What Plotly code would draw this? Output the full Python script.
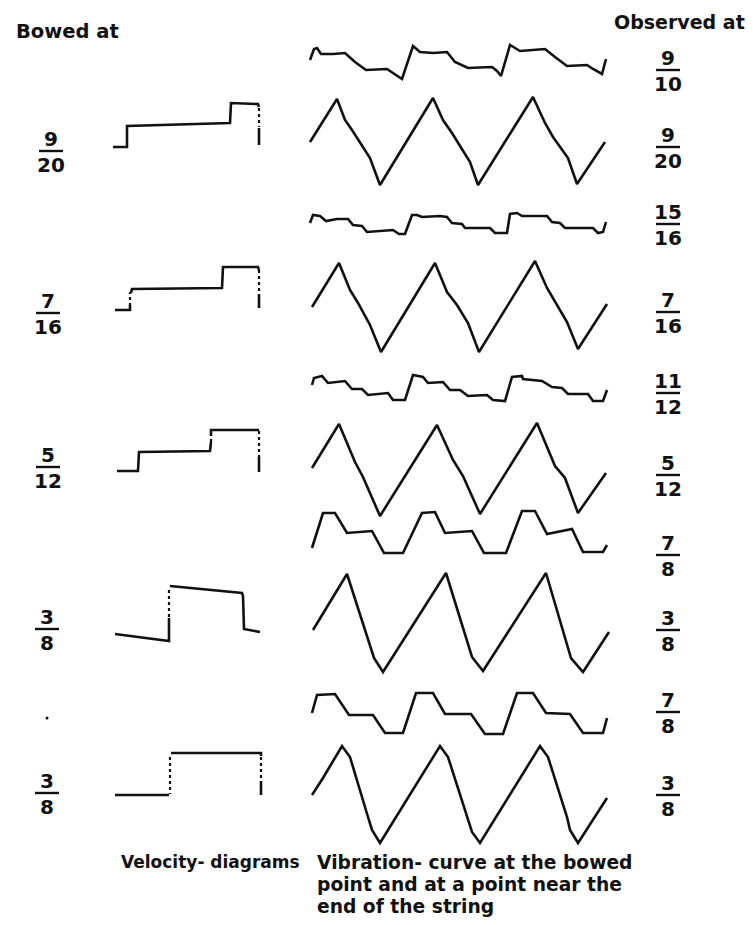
import plotly.graph_objects as go

# ---------------- vibration curves (observed), vertices ----------------
obs_910_x = [310, 314, 317, 321, 333, 345, 355, 366, 387, 393, 402, 413, 420, 433, 447, 455, 468, 492, 497, 501, 510, 520, 533, 545, 555, 567, 587, 593, 602, 606]
obs_910_y = [60, 49, 48, 54, 54, 53, 62, 70, 69, 73, 79, 46, 52, 53, 52, 62, 68, 67, 71, 76, 45, 51, 50, 49, 57, 66, 65, 69, 74, 59]

obs_920_x = [310, 337, 345, 352, 370, 380, 433, 443, 452, 470, 478, 533, 545, 553, 568, 577, 605]
obs_920_y = [142, 99, 120, 130, 158, 185, 98, 120, 133, 162, 185, 97, 123, 137, 158, 184, 142]

obs_1516_x = [310, 313, 320, 326, 337, 348, 353, 362, 367, 380, 393, 399, 405, 412, 417, 422, 440, 447, 452, 462, 465, 490, 495, 507, 510, 517, 522, 547, 552, 560, 565, 593, 598, 603, 606]
obs_1516_y = [223, 215, 216, 221, 219, 219, 225, 226, 232, 231, 230, 234, 234, 215, 215, 217, 216, 217, 223, 224, 228, 228, 233, 233, 214, 213, 216, 216, 222, 223, 228, 228, 233, 232, 222]

obs_716_x = [312, 339, 350, 358, 370, 381, 435, 447, 457, 468, 479, 535, 547, 555, 567, 578, 607]
obs_716_y = [307, 263, 290, 303, 325, 352, 263, 292, 305, 323, 352, 261, 288, 302, 322, 349, 304]

obs_1112_x = [312, 314, 322, 325, 328, 345, 352, 362, 368, 388, 393, 405, 413, 423, 428, 443, 450, 460, 468, 487, 493, 505, 512, 522, 523, 542, 552, 562, 568, 588, 593, 603, 607]
obs_1112_y = [385, 378, 376, 379, 383, 381, 389, 389, 395, 393, 400, 400, 375, 377, 383, 382, 390, 390, 396, 395, 400, 401, 377, 376, 379, 381, 387, 388, 394, 394, 401, 401, 390]

obs_512_x = [312, 339, 355, 363, 380, 437, 453, 463, 480, 537, 555, 565, 578, 606]
obs_512_y = [468, 424, 462, 477, 516, 425, 460, 476, 514, 423, 466, 478, 513, 473]

obs_78a_x = [312, 323, 335, 347, 372, 384, 403, 422, 435, 445, 472, 484, 506, 522, 535, 547, 572, 583, 603, 607]
obs_78a_y = [548, 513, 513, 533, 531, 553, 553, 513, 512, 533, 531, 553, 553, 511, 511, 534, 529, 552, 552, 545]

obs_38a_x = [313, 347, 374, 383, 446, 472, 483, 546, 571, 583, 609]
obs_38a_y = [630, 574, 658, 672, 573, 657, 671, 573, 658, 672, 632]

obs_78b_x = [312, 317, 335, 349, 373, 385, 403, 416, 433, 445, 471, 485, 503, 517, 533, 546, 570, 583, 603, 607]
obs_78b_y = [713, 695, 694, 715, 715, 733, 733, 693, 693, 714, 714, 734, 734, 693, 693, 713, 714, 733, 733, 718]

obs_38b_x = [312, 323, 342, 350, 368, 372, 380, 440, 448, 467, 472, 480, 540, 548, 567, 570, 578, 607]
obs_38b_y = [795, 778, 746, 757, 817, 830, 843, 746, 757, 817, 832, 843, 746, 757, 817, 830, 843, 798]

# ---------------- velocity diagrams ----------------
vel_920_x = [113, 127, 127, 230, 231, 258, 259]
vel_920_y = [147, 147, 126, 123, 103, 104, 107]
vel_920_end_x = [259, 259]
vel_920_end_y = [128, 145]
vel_920_dot_x = [259, 259]
vel_920_dot_y = [108, 127]

vel_716_x = [115, 130, 130]
vel_716_y = [310, 310, 305]
vel_716b_x = [131, 132, 222, 223, 258, 259]
vel_716b_y = [293, 289, 288, 267, 267, 270]
vel_716_dot_x = [[130, 130], [259, 259]]
vel_716_dot_y = [[306, 292], [270, 293]]
vel_716_end_x = [259, 259]
vel_716_end_y = [294, 308]

vel_512_x = [117, 138, 139, 210, 211]
vel_512_y = [471, 471, 452, 451, 442]
vel_512b_x = [211, 211, 259]
vel_512b_y = [436, 430, 430]
vel_512_dot_x = [[211, 211], [259, 259]]
vel_512_dot_y = [[442, 436], [431, 457]]
vel_512_end_x = [259, 259]
vel_512_end_y = [457, 472]

vel_38a_x = [115, 168, 169, 169]
vel_38a_y = [634, 641, 641, 618]
vel_38a_dot_x = [169, 169]
vel_38a_dot_y = [617, 588]
vel_38a_top_x = [170, 242, 243, 244, 260]
vel_38a_top_y = [586, 593, 596, 629, 632]

vel_38b_x = [115, 169]
vel_38b_y = [795, 795]
vel_38b_top_x = [171, 261, 261]
vel_38b_top_y = [753, 753, 756]
vel_38b_dot_x = [[170, 170], [261, 261]]
vel_38b_dot_y = [[757, 794], [757, 780]]
vel_38b_end_x = [261, 261]
vel_38b_end_y = [781, 795]

# ---------------- labels ----------------
bowed_labels = [("9", "20"), ("7", "16"), ("5", "12"), ("3", "8"), ("3", "8")]
bowed_bar_y = [151, 313, 467, 629, 793]
bowed_cx = [51, 48, 48, 47, 47]
observed_labels = [("9", "10"), ("9", "20"), ("15", "16"), ("7", "16"), ("11", "12"),
                   ("5", "12"), ("7", "8"), ("3", "8"), ("7", "8"), ("3", "8")]
observed_bar_y = [70, 147, 224, 312, 393, 475, 555, 630, 712, 795]

INK = "#111111"
FONT = "DejaVu Sans"
OFF = 8  # page body margin of the html page

fig = go.Figure()


def add_line(x, y, dash="solid", w=2.6):
    fig.add_trace(go.Scatter(x=x, y=y, mode="lines",
                             line=dict(color=INK, width=w, dash=dash),
                             hoverinfo="skip", showlegend=False))


for cx, cy in [(obs_910_x, obs_910_y), (obs_920_x, obs_920_y), (obs_1516_x, obs_1516_y),
               (obs_716_x, obs_716_y), (obs_1112_x, obs_1112_y), (obs_512_x, obs_512_y),
               (obs_78a_x, obs_78a_y), (obs_38a_x, obs_38a_y), (obs_78b_x, obs_78b_y),
               (obs_38b_x, obs_38b_y)]:
    add_line(cx, cy)

for cx, cy in [(vel_920_x, vel_920_y), (vel_920_end_x, vel_920_end_y),
               (vel_716_x, vel_716_y), (vel_716b_x, vel_716b_y), (vel_716_end_x, vel_716_end_y),
               (vel_512_x, vel_512_y), (vel_512b_x, vel_512b_y), (vel_512_end_x, vel_512_end_y),
               (vel_38a_x, vel_38a_y), (vel_38a_top_x, vel_38a_top_y),
               (vel_38b_x, vel_38b_y), (vel_38b_top_x, vel_38b_top_y), (vel_38b_end_x, vel_38b_end_y)]:
    add_line(cx, cy)

add_line(vel_920_dot_x, vel_920_dot_y, dash="dot", w=2.2)
add_line(vel_38a_dot_x, vel_38a_dot_y, dash="dot", w=2.2)
for dxs, dys in [(vel_716_dot_x, vel_716_dot_y), (vel_512_dot_x, vel_512_dot_y),
                 (vel_38b_dot_x, vel_38b_dot_y)]:
    for dx, dy in zip(dxs, dys):
        add_line(dx, dy, dash="dot", w=2.2)

# stray speck in the original print
fig.add_trace(go.Scatter(x=[47], y=[718], mode="markers",
                         marker=dict(color=INK, size=3), hoverinfo="skip", showlegend=False))

annotations = []
shapes = []


def text(x, y, s, size=18, anchor="left"):
    annotations.append(dict(x=x, y=y, xref="x", yref="y", text=s, showarrow=False,
                            xanchor=anchor, yanchor="middle",
                            font=dict(family=FONT, size=size, color=INK, weight="bold")))


def frac(cx, bar_y, num, den):
    size = 20
    text(cx, bar_y - 12, num, size=size, anchor="center")
    text(cx, bar_y + 14, den, size=size, anchor="center")
    shapes.append(dict(type="line", xref="x", yref="y", x0=cx - 12, x1=cx + 12,
                       y0=bar_y, y1=bar_y, line=dict(color=INK, width=2.4)))


for (n, d), by, cx in zip(bowed_labels, bowed_bar_y, bowed_cx):
    frac(cx, by, n, d)
for (n, d), by in zip(observed_labels, observed_bar_y):
    frac(668, by, n, d)

text(14, 31, "Bowed at", size=19.5)
text(747, 22, "Observed at", size=19, anchor="right")
text(302, 862, "Velocity- diagrams", size=17, anchor="right")
text(315, 862, "Vibration- curve at the bowed", size=18.7)
text(315, 884, "point and at a point near the", size=18.7)
text(315, 906, "end of the string", size=18.7)

fig.update_layout(
    width=753 - OFF, height=925 - OFF,
    margin=dict(l=0, r=0, t=0, b=0),
    paper_bgcolor="white", plot_bgcolor="white",
    xaxis=dict(range=[OFF, 753], visible=False, fixedrange=True),
    yaxis=dict(range=[925, OFF], visible=False, fixedrange=True),
    annotations=annotations, shapes=shapes,
)

fig.write_html("out.html")
